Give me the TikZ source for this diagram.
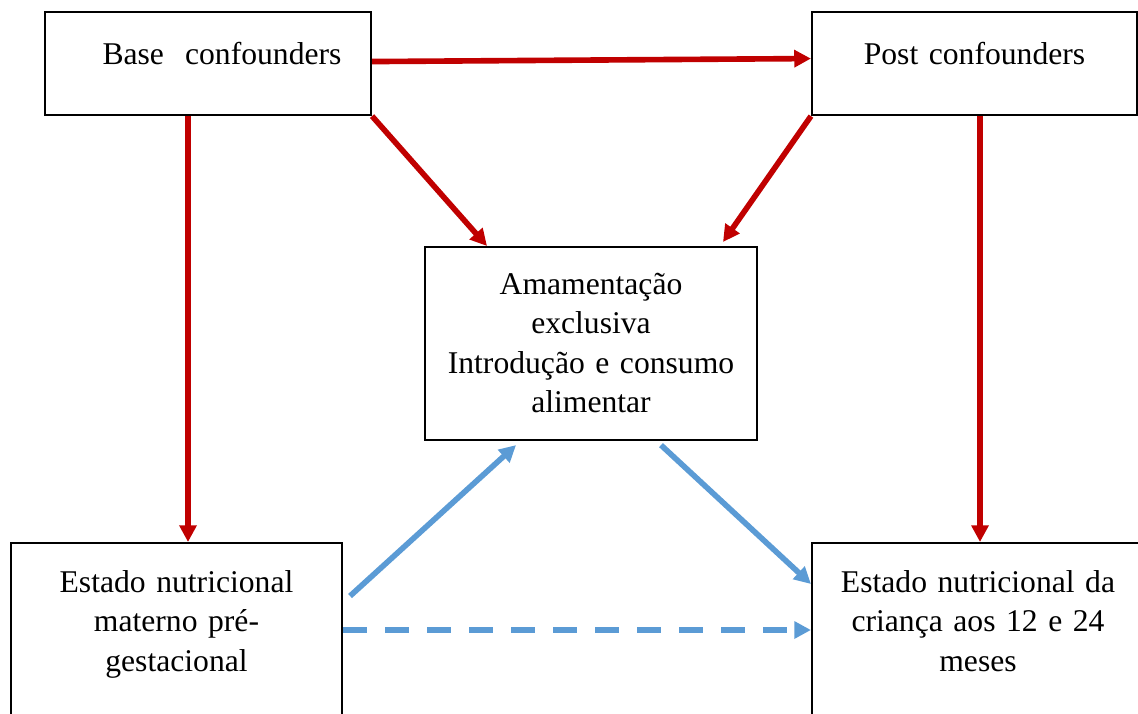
\documentclass[tikz,border=0pt]{standalone}
\usepackage{fontspec}
\setmainfont{Liberation Serif}
\usepackage{xcolor}
\usepackage{tikz}
\usetikzlibrary{arrows.meta,positioning}
\definecolor{confred}{HTML}{C00000}
\definecolor{pathblue}{HTML}{5B9BD5}

\begin{document}
\begin{tikzpicture}[
  box/.style={
    draw, line width=1.2pt, anchor=north,
    inner xsep=0.2cm, inner ysep=0pt, align=center,
    font=\fontsize{18}{22.5}\selectfont
  },
  conf/.style={-{Triangle[length=9.5pt,width=9.5pt]},
    line width=3.2pt, confred},
  path/.style={-{Triangle[length=9.5pt,width=9.5pt]},
    line width=3.2pt, pathblue},
  direct/.style={path, dash pattern=on 13.7pt off 10.2pt}]

\useasboundingbox (0,0) rectangle (22.76,-14.26);
\clip (0,0) rectangle (22.76,-14.26);

% Confounder boxes (top row)
\node[box, text width=6.12cm, text height=1.04cm, text depth=1.02cm]
  (base) at (4.16,-0.22) {\hspace*{0.56cm}Base\ \ confounders};
\node[box, text width=6.10cm, text height=1.04cm, text depth=1.02cm]
  (post) at (19.49,-0.22) {Post confounders};

% Exposure in the middle
\node[box, text width=6.24cm, text height=0.94cm, text depth=2.92cm]
  (feed) at (11.82,-4.92)
  {Amamentação\\ exclusiva\\ Introdução e consumo\\ alimentar};

% Maternal status and outcome (bottom row, cut by the page)
\node[box, text width=6.22cm, text height=0.98cm, text depth=3.38cm]
  (matn) at (3.53,-10.84)
  {Estado nutricional\\ materno pré-\\ gestacional};
\node[box, text width=6.24cm, text height=0.98cm, text depth=3.38cm]
  (child) at (19.56,-10.84)
  {Estado nutricional da\\ criança aos 12 e 24\\ meses};

% Confounding paths
\draw[conf] ([yshift=0.04cm]base.east) -- ([yshift=0.10cm]post.west);
\draw[conf] ([xshift=-0.4cm]base.south)
  -- ([xshift=-0.4cm]base.south |- matn.north);
\draw[conf] (base.south east) -- ([xshift=-2.08cm]feed.north);
\draw[conf] (post.south west) -- ([xshift=2.64cm,yshift=0.08cm]feed.north);
\draw[conf] ([xshift=0.11cm]post.south)
  -- ([xshift=0.11cm]post.south |- child.north);

% Mediated and direct paths
\draw[path] ([xshift=0.14cm,yshift=-1.08cm]matn.north east)
  -- ([xshift=-1.5cm,yshift=-0.08cm]feed.south);
\draw[path] ([xshift=1.4cm,yshift=-0.08cm]feed.south)
  -- ([yshift=-0.84cm]child.north west);
\draw[direct] ([yshift=-1.76cm]matn.north east)
  -- ([yshift=-1.76cm]child.north west);

\end{tikzpicture}
\end{document}
